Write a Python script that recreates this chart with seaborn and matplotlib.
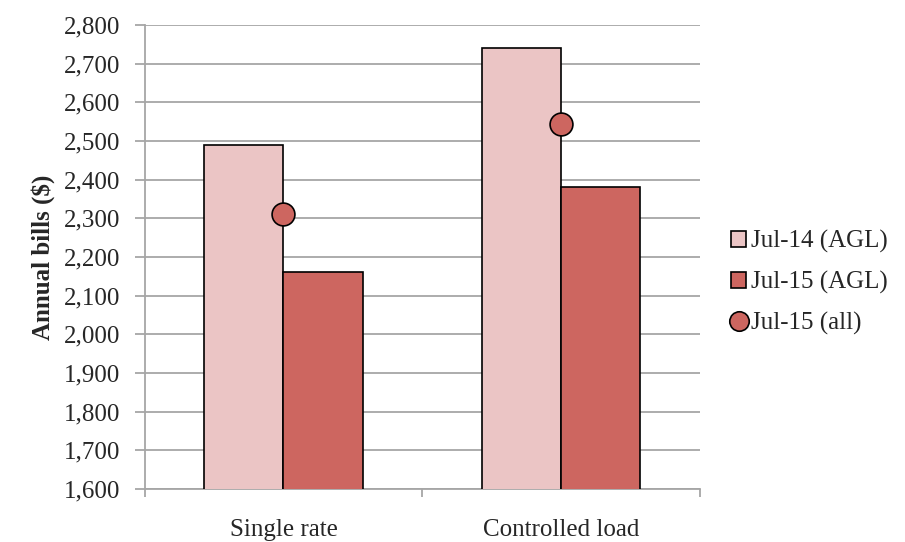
import matplotlib
matplotlib.use("Agg")
import matplotlib.pyplot as plt
import seaborn as sns
import pandas as pd
from matplotlib.lines import Line2D
from matplotlib.patches import Patch

categories = ["Single rate", "Controlled load"]
jul14_agl = [2490, 2740]
jul15_agl = [2160, 2380]
jul15_all = [2310, 2545]
series_names = ["Jul-14 (AGL)", "Jul-15 (AGL)", "Jul-15 (all)"]
yticks = list(range(1600, 2801, 100))

c_light = "#EBC5C5"
c_dark = "#CD6660"
grid_c = "#A6A6A6"

sns.set_theme(style="white")
plt.rcParams["font.family"] = ["Liberation Serif", "DejaVu Serif"]

bars = pd.DataFrame({
    "category": categories * 2,
    "series": [series_names[0]] * 2 + [series_names[1]] * 2,
    "value": jul14_agl + jul15_agl,
})
pts = pd.DataFrame({"category": categories, "value": jul15_all})

fig = plt.figure(figsize=(9.05, 5.42), dpi=100)
ax = fig.add_axes([0.160, 0.098, 0.613, 0.856])

sns.barplot(data=bars, x="category", y="value", hue="series",
            palette=[c_light, c_dark], saturation=1, width=0.57, edgecolor="black",
            linewidth=1.2, ax=ax, legend=False, zorder=3)
ax.scatter([0, 1], pts["value"], s=270, color=c_dark, edgecolor="black",
           linewidth=1.2, zorder=5)

ax.set_ylim(1600, 2800)
ax.set_xlim(-0.5, 1.5)
ax.set_yticks(yticks)
ax.set_yticklabels([f"{v:,}" for v in yticks], fontsize=18)
ax.yaxis.grid(True, color=grid_c, linewidth=1.3, zorder=0)
ax.set_axisbelow(True)
ax.set_xlabel("")
ax.set_ylabel("Annual bills ($)", fontsize=18, fontweight="bold", labelpad=6)
ax.set_xticks([0, 1])
ax.set_xticklabels(categories, fontsize=18)
ax.set_xticks([-0.5, 0.5, 1.5], minor=True)
ax.tick_params(axis="x", which="major", length=0, pad=22)
ax.tick_params(axis="x", which="minor", length=6, color=grid_c, width=1.3, direction="out", bottom=True)
ax.tick_params(axis="y", length=7, color=grid_c, width=1.3, direction="out", left=True, pad=11)
for s in ["top", "right"]:
    ax.spines[s].set_visible(False)
for s in ["left", "bottom"]:
    ax.spines[s].set_color(grid_c)
    ax.spines[s].set_linewidth(1.3)

handles = [
    Patch(facecolor=c_light, edgecolor="black", linewidth=1.2),
    Patch(facecolor=c_dark, edgecolor="black", linewidth=1.2),
    Line2D([], [], marker="o", linestyle="none", markersize=14,
           markerfacecolor=c_dark, markeredgecolor="black", markeredgewidth=1.2),
]
fig.legend(handles, series_names, loc="center left", bbox_to_anchor=(0.783, 0.479),
           frameon=False, fontsize=18, handlelength=0.6, handleheight=0.6,
           handletextpad=0.2, labelspacing=0.72)

fig.savefig("out.png", dpi=100)
